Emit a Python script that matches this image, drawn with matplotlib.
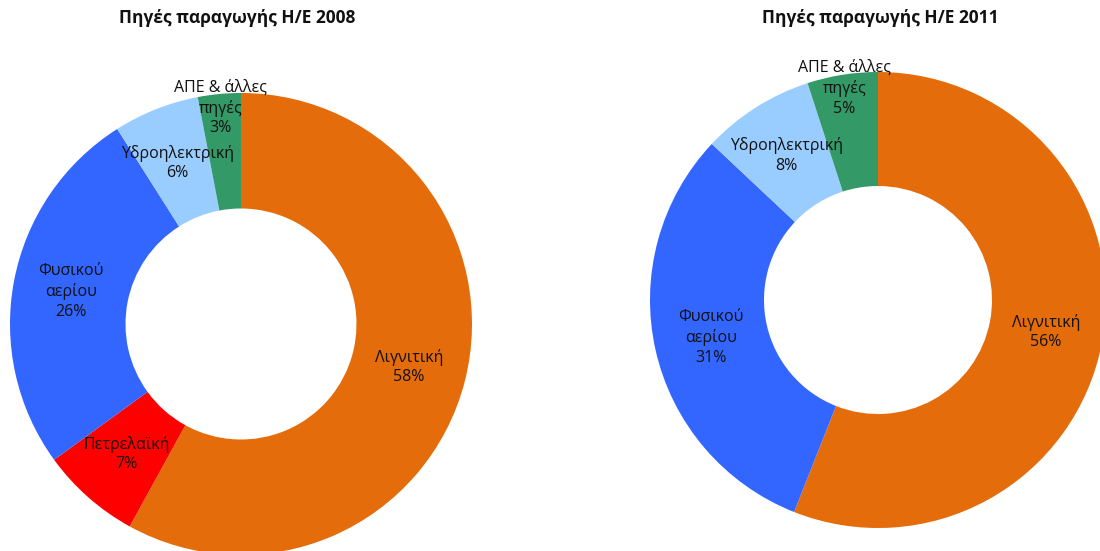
import numpy as np
import matplotlib
matplotlib.use('Agg')
import matplotlib.pyplot as plt

plt.rcParams['font.family'] = ['Open Sans', 'DejaVu Sans']

# data
categories = ['Λιγνιτική', 'Πετρελαϊκή', 'Φυσικού\nαερίου', 'Υδροηλεκτρική', 'ΑΠΕ & άλλες\nπηγές']
values_2008 = [58, 7, 26, 6, 3]
values_2011 = [56, 0, 31, 8, 5]
colors = ['#E46C0A', '#FF0000', '#3366FF', '#99CCFF', '#339966']

W, H = 1100, 551
fig = plt.figure(figsize=(W / 100, H / 100), dpi=100)


def donut(cx, cy, r, values, title, title_x):
    # cx, cy, r in pixels (cy from top)
    ax = fig.add_axes([(cx - r) / W, (H - cy - r) / H, 2 * r / W, 2 * r / H])
    keep = [i for i, v in enumerate(values) if v > 0]
    vals = [values[i] for i in keep]
    cols = [colors[i] for i in keep]
    wedges, _ = ax.pie(vals, colors=cols, startangle=90, counterclock=False,
                       radius=1, wedgeprops=dict(width=0.5, linewidth=0))
    total = sum(vals)
    for w, i, v in zip(wedges, keep, vals):
        ang = np.deg2rad((w.theta1 + w.theta2) / 2)
        rr = 0.94 if i == 4 else 0.75
        ax.text(rr * np.cos(ang), rr * np.sin(ang),
                f"{categories[i]}\n{round(100 * v / total)}%",
                ha='center', va='center', fontsize=11.5, color='#111111',
                linespacing=1.3, clip_on=False)
    ax.set_xlim(-1, 1)
    ax.set_ylim(-1, 1)
    ax.set_aspect('equal')
    for p in ax.patches:
        p.set_clip_on(False)
    fig.text(title_x / W, 1 - 18 / H, title, ha='center', va='center',
             fontsize=12.5, fontweight='bold', color='#111111')


donut(241, 324, 231, values_2008, 'Πηγές παραγωγής Η/Ε 2008', 237)
donut(878, 300, 228, values_2011, 'Πηγές παραγωγής Η/Ε 2011', 880)

fig.savefig('out.png', dpi=100)
